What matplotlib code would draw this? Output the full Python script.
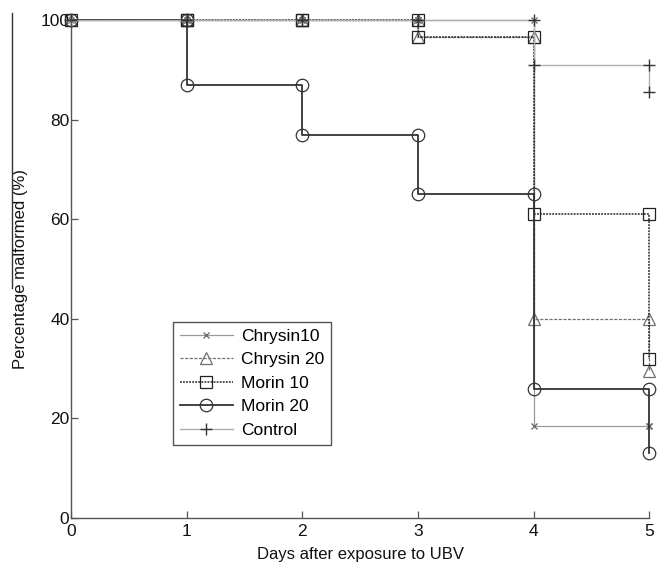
import matplotlib
matplotlib.use("Agg")
from matplotlib import pyplot as plt
from matplotlib.lines import Line2D

plt.rcParams['font.family'] = ['Liberation Sans', 'DejaVu Sans']

# step curves: each day appears twice (value before / after the drop)
days = [0, 1, 1, 2, 2, 3, 3, 4, 4, 5, 5]
chrysin10 = [100, 100, 100, 100, 100, 100, 100, 100, 18.5, 18.5, 18.5]
chrysin20 = [100, 100, 100, 100, 100, 100, 96.5, 96.5, 40, 40, 29.5]
morin10 = [100, 100, 100, 100, 100, 100, 96.5, 96.5, 61, 61, 32]
morin20 = [100, 100, 87, 87, 77, 77, 65, 65, 26, 26, 13]
control = [100, 100, 100, 100, 100, 100, 100, 100, 91, 91, 85.5]

labels = ["Chrysin10", "Chrysin 20", "Morin 10", "Morin 20", "Control"]

fig = plt.figure(figsize=(6.68, 5.64), dpi=100, facecolor="white")
ax = fig.add_axes([0.106, 0.0816, 0.866, 0.8829])

ax.plot(days, chrysin10, color="#9a9a9a", lw=0.9, marker="x", ms=4.5, mew=0.9,
        mec="#666666", label=labels[0], clip_on=False)
ax.plot(days, chrysin20, color="#707070", lw=0.9, ls=(0, (2.5, 1.2)), marker="^", ms=9,
        mfc="none", mew=0.9, label=labels[1], clip_on=False)
ax.plot(days, morin10, color="#222222", lw=1.1, ls=(0, (1.2, 0.8)), marker="s", ms=8.5,
        mfc="none", mew=0.9, label=labels[2], clip_on=False)
ax.plot(days, morin20, color="#333333", lw=1.3, marker="o", ms=9, mfc="none", mew=0.9,
        label=labels[3], clip_on=False)
ax.plot(days, control, color="#b0b0b0", lw=1.0, marker="+", ms=9, mew=1.0,
        mec="#333333", label=labels[4], clip_on=False)

ax.set_xlim(0, 5)
ax.set_ylim(0, 100)
ax.set_xticks(range(6))
ax.set_yticks(range(0, 101, 20))
ax.spines["top"].set_visible(False)
ax.spines["right"].set_visible(False)
for s in ["left", "bottom"]:
    ax.spines[s].set_color("#555555")
    ax.spines[s].set_linewidth(1.0)
ax.tick_params(direction="in", length=5, width=0.9, colors="#555555", labelsize=12.5,
               labelcolor="#111111", pad=4)
ax.tick_params(axis="y", pad=1)

ax.set_xlabel("Days after exposure to UBV", fontsize=12, color="#111111", labelpad=6)
ax.set_ylabel("Percentage malformed (%)", fontsize=12, color="#111111", labelpad=9)

leg = ax.legend(loc="lower left", bbox_to_anchor=(0.161, 0.13), fontsize=12.5,
                handlelength=3.1, handletextpad=0.45, borderpad=0.4, labelspacing=0.48,
                fancybox=False, framealpha=1, edgecolor="#555555")
leg.get_frame().set_linewidth(1.0)

# thin vertical rule left of the axis label, as in the source image
fig.add_artist(Line2D([12 / 668, 12 / 668], [1 - 13 / 564, 1 - 288 / 564],
                      transform=fig.transFigure, color="#333333", lw=1.0))

plt.savefig("out.png", dpi=100)
plt.close()
